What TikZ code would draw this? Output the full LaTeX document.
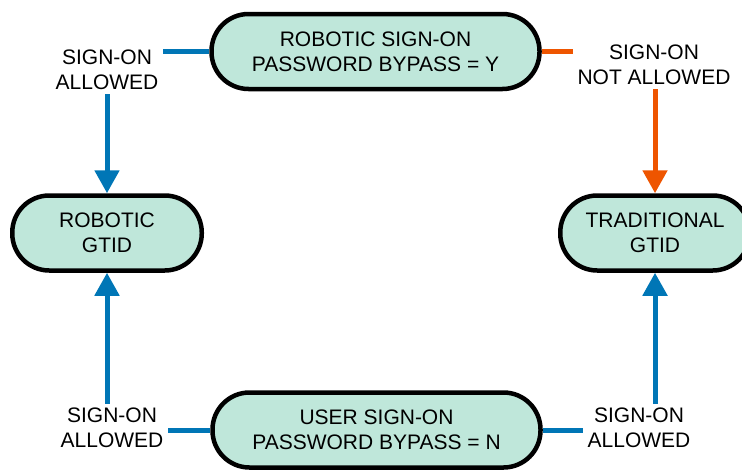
\documentclass[tikz,border=0pt]{standalone}
\usepackage{fontspec}
\setmainfont{Liberation Sans}
\usetikzlibrary{arrows.meta}
\definecolor{linkblue}{RGB}{0,118,182}
\definecolor{linkorange}{RGB}{238,85,0}
\definecolor{boxfill}{RGB}{191,231,218}
\begin{document}
\begin{tikzpicture}[x=0.5pt,y=-0.5pt,
    state/.style={draw, line width=2.25pt, fill=boxfill, rounded corners=18.5pt,
      minimum height=37.5pt, align=center, font=\fontsize{10.5}{12.5}\selectfont},
    cond/.style={align=center, inner sep=2pt, font=\fontsize{10.5}{12.5}\selectfont},
    link/.style={line width=2.5pt},
    arr/.style={link, -{Triangle[width=12pt,length=11.5pt]}}]
    \useasboundingbox (0,0) rectangle (742,471);
    \node[state, minimum width=164pt] (robsign) at (375.5,51.5) {ROBOTIC SIGN-ON\\PASSWORD BYPASS = Y};
    \node[state, minimum width=164pt] (usersign) at (376.5,430) {USER SIGN-ON\\PASSWORD BYPASS = N};
    \node[state, minimum width=94.75pt] (robgtid) at (107,233) {ROBOTIC\\GTID};
    \node[state, minimum width=94.75pt] (tradgtid) at (655,233) {TRADITIONAL\\GTID};
    \node[cond] (topleft) at (107,70) {SIGN-ON\\ALLOWED};
    \node[cond] (topright) at (654,65) {SIGN-ON\\NOT ALLOWED};
    \node[cond] (botleft) at (112,428) {SIGN-ON\\ALLOWED};
    \node[cond] (botright) at (639,428) {SIGN-ON\\ALLOWED};
    \draw[link, linkblue] (robsign.west) -- (robsign.west -| topleft.east);
    \draw[arr, linkblue] (topleft.south) -- (robgtid.north);
    \draw[link, linkorange] (robsign.east) -- (robsign.east -| topright.west);
    \draw[arr, linkorange] (tradgtid |- topright.south) -- (tradgtid.north);
    \draw[link, linkblue] (usersign.west) -- (usersign.west -| botleft.east);
    \draw[arr, linkblue] (robgtid |- botleft.north) -- (robgtid.south);
    \draw[link, linkblue] (usersign.east) -- (usersign.east -| botright.west);
    \draw[arr, linkblue] (tradgtid |- botright.north) -- (tradgtid.south);
\end{tikzpicture}
\end{document}
